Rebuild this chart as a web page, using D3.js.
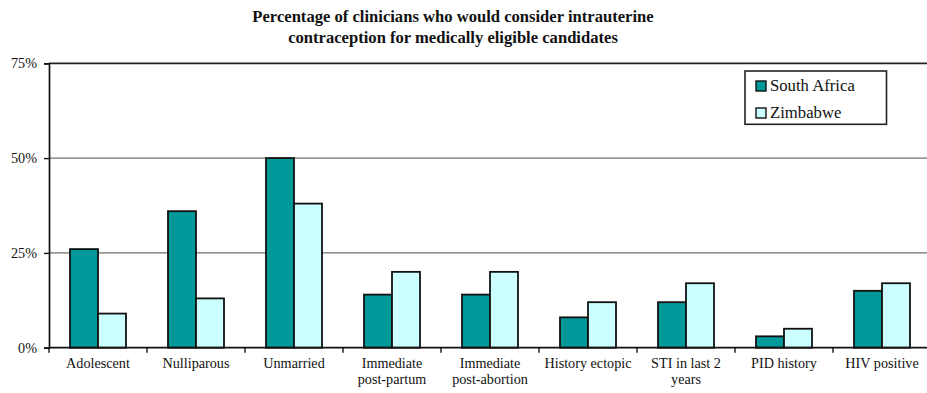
<!DOCTYPE html>
<html><head><meta charset="utf-8">
<script src="https://cdn.jsdelivr.net/npm/d3@7"></script>
<style>html,body{margin:0;padding:0;background:#fff;overflow:hidden}
svg text{font-family:"Liberation Serif","Times New Roman",Times,"DejaVu Serif",serif;}</style>
</head><body>
<svg id="chart" width="927" height="393"></svg>
<script>
const categories = ["Adolescent","Nulliparous","Unmarried","Immediate\npost-partum","Immediate\npost-abortion","History ectopic","STI in last 2\nyears","PID history","HIV positive"];
const seriesNames = ["South Africa","Zimbabwe"];
const southAfrica = [26,36,50,14,14,8,12,3,15];
const zimbabwe = [9,13,38,20,20,12,17,5,17];
const yTicks = [0,25,50,75];
const titleLines = ["Percentage of clinicians who would consider intrauterine","contraception for medically eligible candidates"];

const colors = ["#009999","#CCFFFF"];
const svg = d3.select("#chart");
const pLeft = 49, pRight = 931, pTop = 63.3, pBottom = 347.7;

const x = d3.scaleBand().domain(categories).range([pLeft, pRight]).paddingInner(0).paddingOuter(0);
const gap = 1.5;
const x1 = d3.scaleBand().domain(seriesNames).range([0, x.bandwidth()]).paddingInner(0).paddingOuter(gap/2);
const y = d3.scaleLinear().domain([0,75]).range([pBottom, pTop]);

// gridlines
svg.append("g").selectAll("line").data(yTicks.filter(t=>t>0 && t<75)).join("line")
  .attr("x1", pLeft).attr("x2", pRight).attr("y1", d=>y(d)).attr("y2", d=>y(d))
  .attr("stroke","#707070").attr("stroke-width",1.4);
// top border
svg.append("line").attr("x1",pLeft).attr("x2",pRight).attr("y1",y(75)).attr("y2",y(75))
  .attr("stroke","#222").attr("stroke-width",1.7);

// bars
const data = categories.map((c,i)=>({c, vals:[southAfrica[i], zimbabwe[i]]}));
const g = svg.append("g").selectAll("g").data(data).join("g")
  .attr("transform", d=>`translate(${x(d.c)},0)`);
g.selectAll("rect").data(d=>d.vals.map((v,j)=>({s:seriesNames[j], v, j}))).join("rect")
  .attr("x", d=>x1(d.s)).attr("width", x1.bandwidth())
  .attr("y", d=>y(d.v)).attr("height", d=>y(0)-y(d.v))
  .attr("fill", d=>colors[d.j]).attr("stroke","#111").attr("stroke-width",1.8);

// y axis
const yAxis = d3.axisLeft(y).tickValues(yTicks).tickFormat(d=>d+"%").tickSize(5).tickPadding(7);
const ya = svg.append("g").attr("transform",`translate(${pLeft},0)`).call(yAxis);
ya.attr("font-family",null);
ya.select(".domain").attr("stroke","#111").attr("stroke-width",1.7);
ya.selectAll(".tick line").attr("stroke","#111").attr("stroke-width",1.4);
ya.selectAll("text").attr("font-size",14.2).attr("fill","#111");

// x axis
const boundaries = categories.map(c=>x(c)).concat([pRight]);
svg.append("line").attr("x1",pLeft).attr("x2",pRight).attr("y1",pBottom).attr("y2",pBottom)
  .attr("stroke","#111").attr("stroke-width",1.7);
svg.append("g").selectAll("line").data(boundaries).join("line")
  .attr("x1",d=>d).attr("x2",d=>d).attr("y1",pBottom).attr("y2",pBottom+5)
  .attr("stroke","#111").attr("stroke-width",1.4);
const xl = svg.append("g").selectAll("text").data(categories).join("text")
  .attr("x", d=>x(d)+x.bandwidth()/2).attr("y", 368)
  .attr("text-anchor","middle").attr("font-size",14.2).attr("fill","#111");
xl.each(function(d){
  const lines = d.split("\n");
  d3.select(this).selectAll("tspan").data(lines).join("tspan")
    .attr("x", x(d)+x.bandwidth()/2).attr("dy",(l,i)=>i===0?0:15.5).text(l=>l);
});

// title
svg.append("text").attr("x",453).attr("y",21.5).attr("text-anchor","middle")
  .attr("font-weight","bold").attr("font-size",16.6).attr("fill","#111")
  .selectAll("tspan").data(titleLines).join("tspan").attr("x",453).attr("dy",(l,i)=>i===0?0:21.5).text(l=>l);

// legend
const lg = svg.append("g");
lg.append("rect").attr("x",745).attr("y",71).attr("width",141.5).attr("height",53.3)
  .attr("fill","#fff").attr("stroke","#222").attr("stroke-width",1.6);
const li = lg.selectAll("g").data(seriesNames).join("g")
  .attr("transform",(d,i)=>`translate(756,${81+i*27})`);
li.append("rect").attr("width",10).attr("height",10).attr("fill",(d,i)=>colors[i]).attr("stroke","#111").attr("stroke-width",1.4);
li.append("text").attr("x",14).attr("y",10).attr("font-size",16.7).attr("fill","#111").text(d=>d);
</script>
</body></html>
